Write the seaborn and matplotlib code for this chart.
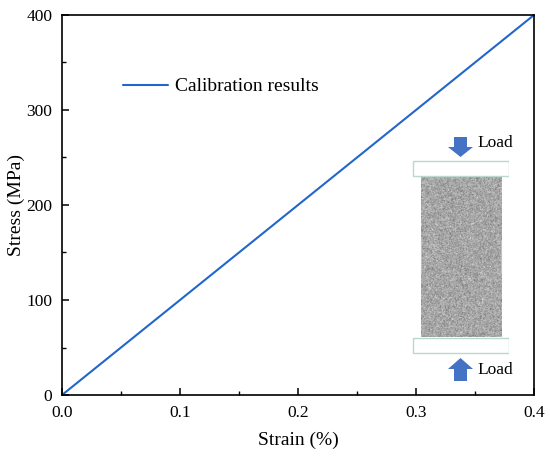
import numpy as np
import pandas as pd
import matplotlib
matplotlib.use("Agg")
import matplotlib.pyplot as plt
import seaborn as sns
from matplotlib.patches import Rectangle, FancyArrow

# calibration curve (linear)
strain = [0.0, 0.1, 0.2, 0.3, 0.4]
stress = [0.0, 100.0, 200.0, 300.0, 400.0]
series_label = "Calibration results"
load_label = "Load"

df = pd.DataFrame({"strain": strain, "stress": stress})

sns.set_style("ticks")
plt.rcParams["font.family"] = ["Liberation Serif", "DejaVu Serif"]
plt.rcParams["text.color"] = "black"
plt.rcParams["axes.labelcolor"] = "black"

fig = plt.figure(figsize=(5.5, 4.58), dpi=100)
ax = fig.add_axes([62 / 550, 63 / 458, 472 / 550, 380 / 458])

sns.lineplot(data=df, x="strain", y="stress", ax=ax, color="#2266cc",
             linewidth=1.5, label=series_label)

ax.set_xlim(0, 0.4)
ax.set_ylim(0, 400)
ax.set_xticks([0.0, 0.1, 0.2, 0.3, 0.4])
ax.set_yticks([0, 100, 200, 300, 400])
ax.set_xticks(np.arange(0.05, 0.4, 0.1), minor=True)
ax.set_yticks(np.arange(50, 400, 100), minor=True)
ax.set_xticklabels([f"{v:.1f}" for v in [0.0, 0.1, 0.2, 0.3, 0.4]])
ax.tick_params(which="major", direction="in", length=5, width=1.1,
               labelsize=12.5, colors="black", pad=7)
ax.tick_params(which="minor", direction="in", length=3, width=1.0,
               colors="black")
ax.set_xlabel("Strain (%)", fontsize=14, labelpad=8)
ax.set_ylabel("Stress (MPa)", fontsize=14, labelpad=1)
for s in ax.spines.values():
    s.set_linewidth(1.2)
    s.set_color("black")

ax.legend(loc="upper left", bbox_to_anchor=(0.113, 0.855), frameon=False,
          fontsize=14, handlelength=2.3, handletextpad=0.35,
          borderaxespad=0, labelcolor="black")

# inset: specimen sketch (pixel coordinates of the figure)
ins = fig.add_axes([412 / 550, 77 / 458, 97 / 550, 244 / 458])
ins.set_xlim(412, 509)
ins.set_ylim(381, 137)
ins.axis("off")
rng = np.random.default_rng(3)
tex = np.clip(rng.normal(0.65, 0.11, (240, 120)), 0, 1)
ins.imshow(tex, cmap="gray", vmin=0, vmax=1, extent=(421, 501, 337, 176),
           aspect="auto", interpolation="bilinear")
plate = dict(facecolor="white", edgecolor="#b8d8d0", linewidth=1.0)
ins.add_patch(Rectangle((412.5, 161), 96, 15, **plate))
ins.add_patch(Rectangle((412.5, 338), 96, 15.5, **plate))
ins.plot([421, 421], [240, 273], color="#a8cfc0", lw=0.8)
ins.plot([501, 501], [240, 273], color="#a8cfc0", lw=0.8)
blue = "#4472c4"
ins.add_patch(FancyArrow(460.5, 137, 0, 20, width=13, head_width=25,
                         head_length=10, length_includes_head=True,
                         color=blue, lw=0))
ins.add_patch(FancyArrow(460.5, 381, 0, -23, width=13, head_width=25,
                         head_length=11, length_includes_head=True,
                         color=blue, lw=0))
ins.text(477, 143, load_label, fontsize=12.5, va="center", ha="left",
         clip_on=False)
ins.text(477, 370, load_label, fontsize=12.5, va="center", ha="left",
         clip_on=False)

fig.savefig("out.png", dpi=100)
